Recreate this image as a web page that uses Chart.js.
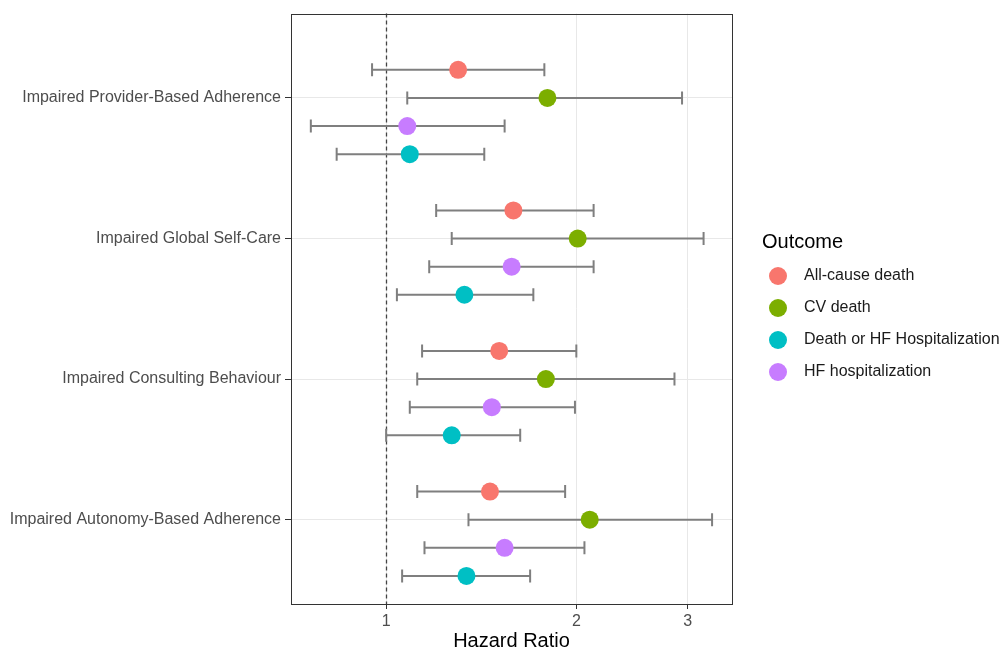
<!DOCTYPE html>
<html><head><meta charset="utf-8">
<script src="https://cdn.jsdelivr.net/npm/chart.js@4"></script>
<style>html,body{margin:0;padding:0;background:#fff}#wrap{width:1000px;height:650px;position:relative}</style>
</head><body><div id="wrap"><canvas id="c" width="1000" height="650"></canvas></div>
<script>
const categories = ['Impaired Provider-Based Adherence','Impaired Global Self-Care','Impaired Consulting Behaviour','Impaired Autonomy-Based Adherence'];
const categoryPos = [4, 3, 2, 1];
const outcomes = ['All-cause death','CV death','Death or HF Hospitalization','HF hospitalization'];
const outcomeOffset = [0.2, 0, -0.4, -0.2];
const colors = ['#F8766D','#7CAE00','#00BFC4','#C77CFF'];
const xTicks = [1, 2, 3];

const hrAllCause = [1.30, 1.59, 1.51, 1.46];
const loAllCause = [0.95, 1.20, 1.14, 1.12];
const hiAllCause = [1.78, 2.13, 2.00, 1.92];

const hrCV = [1.80, 2.01, 1.79, 2.10];
const loCV = [1.08, 1.27, 1.12, 1.35];
const hiCV = [2.94, 3.18, 2.86, 3.28];

const hrDeathHF = [1.09, 1.33, 1.27, 1.34];
const loDeathHF = [0.835, 1.04, 1.00, 1.06];
const hiDeathHF = [1.43, 1.71, 1.63, 1.69];

const hrHF = [1.08, 1.58, 1.47, 1.54];
const loHF = [0.76, 1.17, 1.09, 1.15];
const hiHF = [1.54, 2.13, 1.99, 2.06];

const hrs = [hrAllCause, hrCV, hrDeathHF, hrHF];
const los = [loAllCause, loCV, loDeathHF, loHF];
const his = [hiAllCause, hiCV, hiDeathHF, hiHF];

const FONT = '"Liberation Sans", Arial, Helvetica, sans-serif';

const datasets = outcomes.map((name, i) => ({
  label: name,
  data: categoryPos.map((p, j) => ({ x: hrs[i][j], y: p + outcomeOffset[i], lo: los[i][j], hi: his[i][j] })),
  backgroundColor: colors[i],
  borderColor: colors[i],
  pointRadius: 9,
  pointBorderWidth: 0,
  pointHoverRadius: 9
}));

const forestPlugin = {
  id: 'forest',
  beforeDatasetsDraw(chart) {
    const ctx = chart.ctx, xs = chart.scales.x, ys = chart.scales.y, a = chart.chartArea;
    ctx.save();
    const x1 = Math.round(xs.getPixelForValue(1)) + 0.5;
    ctx.strokeStyle = '#444';
    ctx.lineWidth = 1.3;
    ctx.setLineDash([4, 3]);
    ctx.beginPath(); ctx.moveTo(x1, a.top); ctx.lineTo(x1, a.bottom); ctx.stroke();
    ctx.setLineDash([]);
    ctx.strokeStyle = '#7f7f7f';
    ctx.lineWidth = 2;
    chart.data.datasets.forEach(ds => {
      ds.data.forEach(d => {
        const y = ys.getPixelForValue(d.y);
        const l = xs.getPixelForValue(d.lo), h = xs.getPixelForValue(d.hi);
        ctx.beginPath();
        ctx.moveTo(l, y); ctx.lineTo(h, y);
        ctx.moveTo(l, y - 6.5); ctx.lineTo(l, y + 6.5);
        ctx.moveTo(h, y - 6.5); ctx.lineTo(h, y + 6.5);
        ctx.stroke();
      });
    });
    ctx.restore();
  },
  afterDraw(chart) {
    const ctx = chart.ctx, a = chart.chartArea;
    ctx.save();
    ctx.strokeStyle = '#333';
    ctx.lineWidth = 1;
    ctx.strokeRect(Math.round(a.left) + 0.5, Math.round(a.top) + 0.5, Math.round(a.right - a.left), Math.round(a.bottom - a.top));
    ctx.fillStyle = '#000';
    ctx.textBaseline = 'middle';
    ctx.textAlign = 'left';
    ctx.font = '20px ' + FONT;
    ctx.fillText('Outcome', 762, 242);
    ctx.font = '16px ' + FONT;
    outcomes.forEach((name, i) => {
      const y = 276 + 32 * i;
      ctx.fillStyle = colors[i];
      ctx.beginPath(); ctx.arc(778, y, 9, 0, Math.PI * 2); ctx.fill();
      ctx.fillStyle = '#1a1a1a';
      ctx.fillText(name, 804, y);
    });
    ctx.restore();
  }
};

new Chart(document.getElementById('c'), {
  type: 'scatter',
  data: { datasets },
  options: {
    responsive: false,
    animation: false,
    devicePixelRatio: 1,
    events: [],
    layout: { padding: { top: 13, right: 268, left: 0, bottom: 0 } },
    plugins: { legend: { display: false }, tooltip: { enabled: false } },
    scales: {
      x: {
        type: 'logarithmic',
        bounds: 'data',
        min: 0.707, max: 3.527,
        afterBuildTicks: s => { s.ticks = xTicks.map(v => ({ value: v })); },
        afterFit: s => { s.height = 46; },
        ticks: { callback: v => String(v), color: '#4d4d4d', font: { family: FONT, size: 16 }, padding: 3, maxRotation: 0, autoSkip: false },
        grid: { color: '#e8e8e8', lineWidth: 1, tickLength: 5, tickColor: '#333' },
        border: { display: false },
        title: { display: true, text: 'Hazard Ratio', color: '#000', font: { family: FONT, size: 20, lineHeight: 0.85 }, padding: { top: 0, bottom: 0 } }
      },
      y: {
        type: 'linear',
        bounds: 'data',
        min: 0.4, max: 4.6,
        afterBuildTicks: s => { s.ticks = categoryPos.map(v => ({ value: v })); },
        afterFit: s => { s.width = 291; },
        ticks: { callback: v => categories[categoryPos.indexOf(v)] || '', color: '#4d4d4d', font: { family: FONT, size: 16 }, padding: 4, autoSkip: false },
        grid: { color: '#e8e8e8', lineWidth: 1, tickLength: 6, tickColor: '#333' },
        border: { display: false }
      }
    }
  },
  plugins: [forestPlugin]
});
</script>
</body></html>
